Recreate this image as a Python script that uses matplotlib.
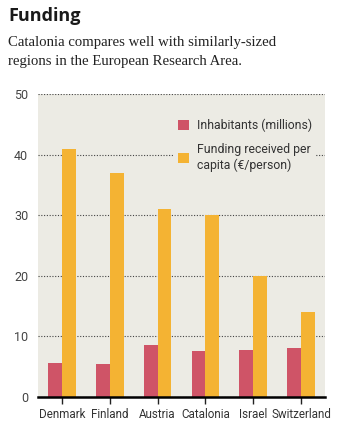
import matplotlib
matplotlib.use('Agg')
import matplotlib.pyplot as plt
import numpy as np

countries = ["Denmark", "Finland", "Austria", "Catalonia", "Israel", "Switzerland"]
inhabitants = [5.6, 5.5, 8.6, 7.6, 7.8, 8.1]
funding_per_capita = [41, 37, 31, 30, 20, 14]
yticks = [0, 10, 20, 30, 40, 50]

red = "#CF5467"
orange = "#F4B333"
panel_bg = "#ECEBE4"

fig = plt.figure(figsize=(3.39, 4.33), dpi=100)
fig.patch.set_facecolor("white")
ax = fig.add_axes([0.112, 0.083, 0.847, 0.700])
ax.set_facecolor(panel_bg)

x = np.arange(len(countries))
w = 0.29
ax.bar(x - w / 2, inhabitants, width=w, color=red, label="Inhabitants (millions)", zorder=3)
ax.bar(x + w / 2, funding_per_capita, width=w, color=orange,
       label="Funding received per\ncapita (€/person)", zorder=3)

ax.set_xlim(-0.5, len(countries) - 0.5)
ax.set_ylim(0, 50)
ax.set_yticks(yticks)
ax.set_xticks(x)
ax.set_xticklabels(countries, fontsize=8.4, family="Roboto", color="#333333")
for lab in ax.get_yticklabels():
    lab.set_fontsize(9)
    lab.set_family("Roboto")
    lab.set_color("#444444")

ax.grid(axis="y", linestyle=(0, (1, 1.5)), color="#444444", linewidth=0.8, zorder=1)
for s in ["top", "right", "left"]:
    ax.spines[s].set_visible(False)
ax.spines["bottom"].set_linewidth(1.8)
ax.spines["bottom"].set_zorder(4)
ax.tick_params(axis="y", length=0, pad=7)
ax.tick_params(axis="x", length=5, width=1, pad=3, color="#222222")

leg = ax.legend(loc="upper right", bbox_to_anchor=(0.99, 0.95), frameon=True,
                facecolor=panel_bg, edgecolor="none", framealpha=1,
                prop={"family": "Roboto", "size": 8.8}, handlelength=0.9,
                handleheight=0.9, labelspacing=0.9, handletextpad=0.7,
                borderpad=0.3, labelcolor="#333333")
leg.set_zorder(5)

fig.text(0.025, 0.963, "Funding", fontsize=13, fontweight="bold",
         family="Open Sans", color="#1a1a1a", va="center")
fig.text(0.025, 0.880, "Catalonia compares well with similarly-sized\nregions in the European Research Area.",
         fontsize=10.6, family="Liberation Serif", color="#222222", va="center",
         linespacing=1.6)

fig.savefig("out.png", dpi=100)
